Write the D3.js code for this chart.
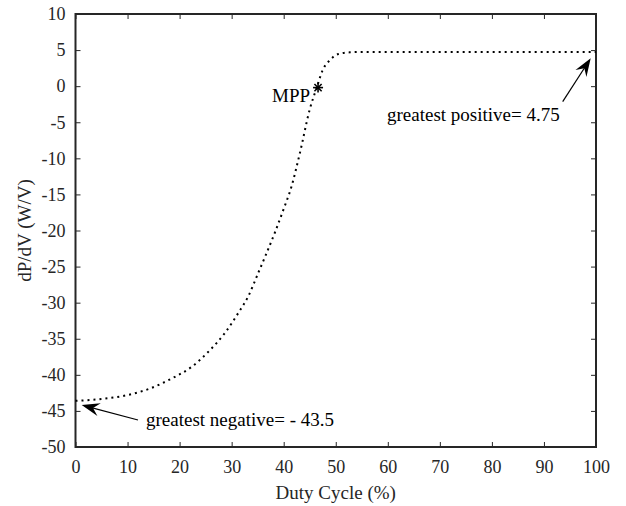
<!DOCTYPE html>
<html><head><meta charset="utf-8">
<script src="https://cdn.jsdelivr.net/npm/d3@7/dist/d3.min.js"></script>
<style>body{margin:0;background:#fff;} svg{display:block;}</style>
</head><body>
<script>
const dutyCycle = [0, 5, 10, 14.3, 18.5, 22.3, 25.8, 28.7, 31.3, 33.2, 35.1, 36.5, 38.3, 39.9, 41.5, 43.1, 45.05, 46.3, 47.5, 48.9, 50.5, 52.7, 56, 100];
const dPdV = [-43.6, -43.35, -42.8, -41.9, -40.5, -38.9, -36.6, -34.2, -31.4, -29.1, -25.9, -23.5, -20.3, -17.2, -13.9, -9.3, -3.1, -0.3, 2.24, 3.63, 4.46, 4.69, 4.75, 4.75];
const xTicks = [0, 10, 20, 30, 40, 50, 60, 70, 80, 90, 100];
const yTicks = [10, 5, 0, -5, -10, -15, -20, -25, -30, -35, -40, -45, -50];
const mpp = {x: 46.6, y: -0.2, label: "MPP"};
const annotations = [
  {text: "greatest positive= 4.75", tx: 387, ty: 121, from: [562.7, 101.7], to: [590.7, 58.3]},
  {text: "greatest negative= - 43.5", tx: 146, ty: 426, from: [138, 420], to: [81.7, 405]}
];

const W = 626, H = 506;
const L = 75.5, R = 596, T = 14, B = 447;
const ink = "#262626";
const font = "'Liberation Serif','Times New Roman',serif";

const svg = d3.select("body").append("svg").attr("width", W).attr("height", H);
const x = d3.scaleLinear().domain([0, 100]).range([L, R]);
const y = d3.scaleLinear().domain([-50, 10]).range([B, T]);

const g = svg.append("g");
const fmt = d => String(d);

function styleAxis(sel, showText) {
  sel.select(".domain").remove();
  sel.selectAll("line").attr("stroke", ink).attr("stroke-width", 1);
  sel.selectAll("text").attr("fill", ink).style("font-family", font).style("font-size", "18px");
  if (!showText) sel.selectAll("text").remove();
}

g.append("g").attr("transform", `translate(0,${B})`)
  .call(d3.axisBottom(x).tickValues(xTicks).tickSize(-5).tickPadding(13).tickFormat(fmt))
  .call(s => styleAxis(s, true));
g.append("g").attr("transform", `translate(0,${T})`)
  .call(d3.axisTop(x).tickValues(xTicks).tickSize(-5).tickFormat(""))
  .call(s => styleAxis(s, false));
g.append("g").attr("transform", `translate(${L},0)`)
  .call(d3.axisLeft(y).tickValues(yTicks).tickSize(-5).tickPadding(10).tickFormat(fmt))
  .call(s => styleAxis(s, true));
g.append("g").attr("transform", `translate(${R},0)`)
  .call(d3.axisRight(y).tickValues(yTicks).tickSize(-5).tickFormat(""))
  .call(s => styleAxis(s, false));

g.append("rect").attr("x", L).attr("y", T).attr("width", R - L).attr("height", B - T)
  .attr("fill", "none").attr("stroke", ink).attr("stroke-width", 2);

// curve
const line = d3.line().x((d, i) => x(dutyCycle[i])).y((d, i) => y(dPdV[i])).curve(d3.curveMonotoneX);
g.append("path").datum(dPdV).attr("d", line)
  .attr("fill", "none").attr("stroke", "#000").attr("stroke-width", 2)
  .attr("stroke-dasharray", "2,4");

// MPP star
const sx = x(mpp.x), sy = y(mpp.y), r = 5;
const star = g.append("g").attr("stroke", "#000").attr("stroke-width", 1.6);
star.append("line").attr("x1", sx - r).attr("x2", sx + r).attr("y1", sy).attr("y2", sy);
star.append("line").attr("x1", sx).attr("x2", sx).attr("y1", sy - r).attr("y2", sy + r);
star.append("line").attr("x1", sx - r * 0.72).attr("x2", sx + r * 0.72).attr("y1", sy - r * 0.72).attr("y2", sy + r * 0.72);
star.append("line").attr("x1", sx - r * 0.72).attr("x2", sx + r * 0.72).attr("y1", sy + r * 0.72).attr("y2", sy - r * 0.72);
g.append("text").attr("x", sx - 8).attr("y", sy + 14).attr("text-anchor", "end")
  .style("font-family", font).style("font-size", "19px").attr("fill", "#000").text(mpp.label);

// annotations
annotations.forEach(a => {
  g.append("text").attr("x", a.tx).attr("y", a.ty).style("font-family", font).style("font-size", "19px")
    .attr("fill", "#000").text(a.text);
  const [x1, y1] = a.from, [x2, y2] = a.to;
  const ang = Math.atan2(y2 - y1, x2 - x1);
  const hl = 18, hw = 6.5;
  const ux = Math.cos(ang), uy = Math.sin(ang);
  const bx = x2 - ux * hl, by = y2 - uy * hl;
  g.append("line").attr("x1", x1).attr("y1", y1).attr("x2", x2 - ux * 8).attr("y2", y2 - uy * 8)
    .attr("stroke", "#000").attr("stroke-width", 1.2);
  const pts = [
    [x2, y2],
    [bx - uy * hw, by + ux * hw],
    [x2 - ux * hl * 0.65, y2 - uy * hl * 0.65],
    [bx + uy * hw, by - ux * hw]
  ];
  g.append("path").attr("d", "M" + pts.map(p => p.join(",")).join("L") + "Z").attr("fill", "#000");
});

// axis labels
svg.append("text").attr("x", (L + R) / 2).attr("y", 499).attr("text-anchor", "middle")
  .style("font-family", font).style("font-size", "19px").attr("fill", ink).text("Duty Cycle (%)");
svg.append("text").attr("transform", `translate(31,${(T + B) / 2}) rotate(-90)`).attr("text-anchor", "middle")
  .style("font-family", font).style("font-size", "19px").attr("fill", ink).text("dP/dV (W/V)");
</script>
</body></html>
